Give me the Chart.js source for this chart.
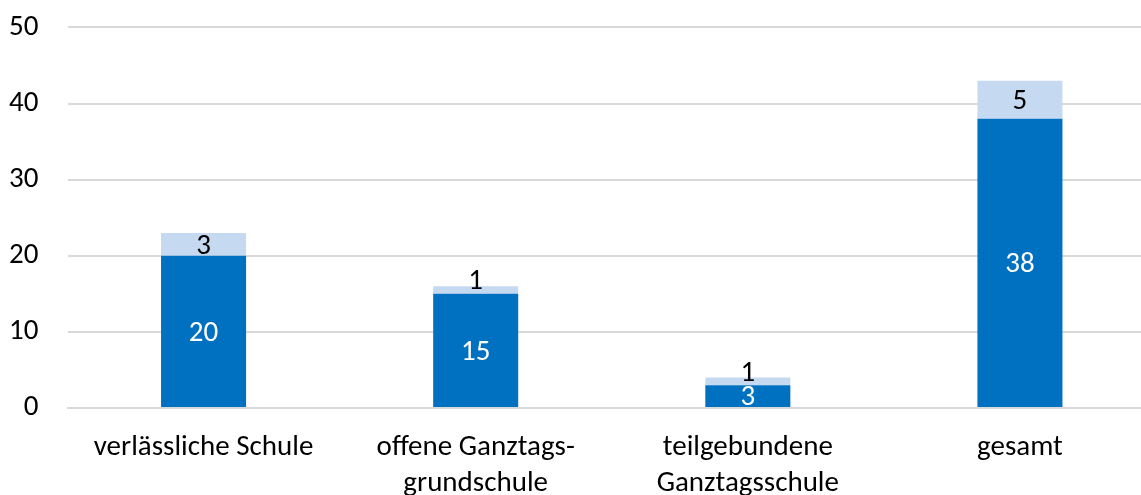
<!DOCTYPE html>
<html>
<head>
<meta charset="utf-8">
<script src="https://cdn.jsdelivr.net/npm/chart.js@4/dist/chart.umd.min.js"></script>
<style>
  html, body { margin: 0; padding: 0; background: #fff; overflow: hidden; }
  #wrap { width: 1160px; height: 519px; position: relative; top: -19px; }
</style>
</head>
<body>
<div id="wrap"><canvas id="chart" width="1160" height="519"></canvas></div>
<script>
// categories + values
var categories = [
    ["verlässliche Schule"],
    ["offene Ganztags-", "grundschule"],
    ["teilgebundene", "Ganztagsschule"],
    ["gesamt"]
];
var darkValues = [20, 15, 3, 38];
var lightValues = [3, 1, 1, 5];
var yTicks = [0, 10, 20, 30, 40, 50];

var FONT = "Carlito, Lato, 'Liberation Sans', sans-serif";
var FSIZE = 29;
var DARK = '#0070C0';
var LIGHT = '#C5D9F1';
var GRID = '#D9D9D9';

// draw values in the middle of each bar segment (no datalabels plugin here)
var segmentLabels = {
    id: 'segmentLabels',
    afterDatasetsDraw: function (chart) {
        var ctx = chart.ctx;
        ctx.save();
        ctx.font = FSIZE + 'px ' + FONT;
        ctx.textAlign = 'center';
        ctx.textBaseline = 'middle';
        chart.data.datasets.forEach(function (ds, i) {
            var meta = chart.getDatasetMeta(i);
            meta.data.forEach(function (bar, j) {
                var mid = (bar.y + bar.base) / 2;
                var h = Math.abs(bar.base - bar.y);
                // thin light segments: excel pushes the label up a bit
                var shift = (i === 1 && h < 15) ? -8 : 2;
                ctx.fillStyle = ds.labelColor;
                ctx.fillText(String(ds.data[j]), bar.x, mid + shift);
            });
        });
        ctx.restore();
    }
};

var ctx = document.getElementById('chart').getContext('2d');
var chartObj = new Chart(ctx, {
    type: 'bar',
    data: {
        labels: categories,
        datasets: [
            { data: darkValues, backgroundColor: DARK, labelColor: '#FFFFFF' },
            { data: lightValues, backgroundColor: LIGHT, labelColor: '#000000' }
        ]
    },
    options: {
        responsive: false,
        animation: false,
        layout: { padding: { top: 10, left: 0, right: 4, bottom: 0 } },
        plugins: { legend: { display: false }, tooltip: { enabled: false } },
        datasets: { bar: { categoryPercentage: 1, barPercentage: 0.3125 } },
        scales: {
            x: {
                stacked: true,
                grid: { display: false, drawTicks: false },
                border: { color: GRID, width: 2 },
                ticks: {
                    color: '#000', padding: 22, maxRotation: 0, autoSkip: false,
                    font: { family: FONT, size: FSIZE, lineHeight: 1.24 }
                },
                afterFit: function (scale) { scale.height = 92; }
            },
            y: {
                stacked: true,
                min: 0, max: 50,
                afterBuildTicks: function (scale) {
                    scale.ticks = yTicks.map(function (v) { return { value: v }; });
                },
                grid: { color: GRID, lineWidth: 2, drawTicks: false },
                border: { display: false },
                ticks: {
                    color: '#000', padding: 29,
                    font: { family: FONT, size: FSIZE }
                },
                afterFit: function (scale) { scale.width = 67.5; }
            }
        }
    },
    plugins: [segmentLabels]
});
</script>
</body>
</html>
